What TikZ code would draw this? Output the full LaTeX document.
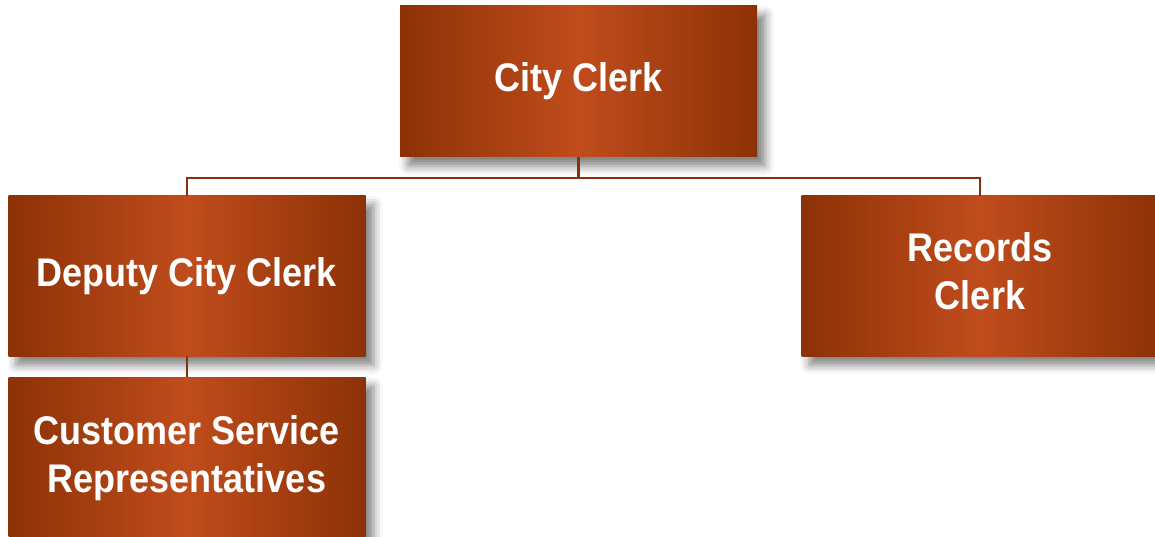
\documentclass[tikz,border=0pt]{standalone}
\usepackage{fontspec}
\setmainfont{Liberation Sans}[FakeStretch=0.9]
\usepackage{tikz}
\usetikzlibrary{shadows.blur}
\definecolor{rustdark}{RGB}{140,50,6}
\definecolor{rustlight}{RGB}{192,76,28}
\definecolor{linkbrown}{RGB}{135,50,12}

\begin{document}
\begin{tikzpicture}[x=1pt,y=-1pt,
  post/.style={rectangle,minimum width=357pt,minimum height=160pt,inner sep=0pt,
    left color=rustdark,right color=rustdark,middle color=rustlight,
    blur shadow={shadow xshift=8pt,shadow yshift=-9pt,shadow blur radius=9pt,shadow opacity=50},
    text=white,align=center,font=\fontsize{40}{48}\selectfont\bfseries},
  link/.style={draw=linkbrown,line width=2.4pt}]
  \useasboundingbox (0,0) rectangle (1155,537);
  \node[post,minimum height=151pt] (city) at (578.5,81.5) {City Clerk};
  \node[post] (deputy) at (187,276) {Deputy City Clerk};
  \node[post] (records) at (980,276) {Records\\Clerk\\[-38pt]};
  \node[post] (service) at (187,457) {Customer Service\\Representatives\\[-42pt]};
  \draw[link] (city.south) -- ++(0,21) -| (deputy.north);
  \draw[link] (city.south) -- ++(0,21) -| (records.north);
  \draw[link] (deputy.south) -- (service.north);
\end{tikzpicture}
\end{document}
